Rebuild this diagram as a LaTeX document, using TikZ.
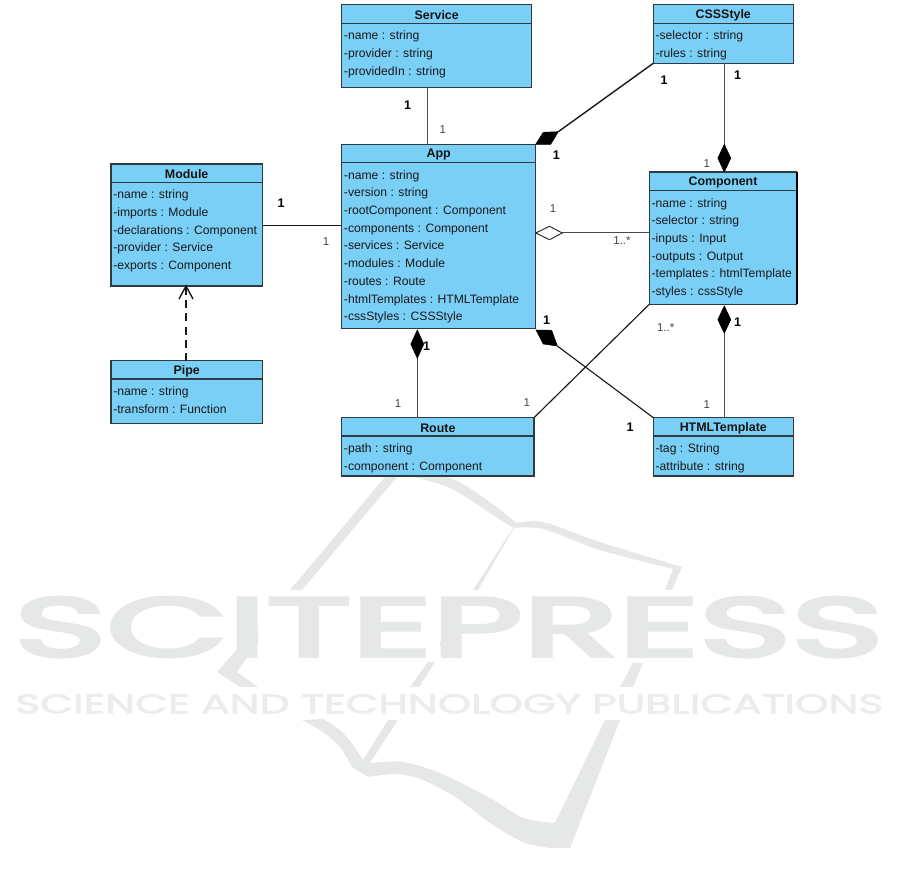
\documentclass[tikz,border=0pt]{standalone}
\usepackage{graphicx}
\usepackage{fontspec}
\usetikzlibrary{calc}
\setmainfont{Liberation Sans}
\newfontfamily\wmfont[FakeBold=4]{Poppins}
\newfontfamily\wmfontb[FakeBold=2]{Poppins}
\definecolor{umlfill}{HTML}{7ACFF7}
\definecolor{umlline}{HTML}{2F3B42}
\definecolor{wm}{HTML}{E6E8E7}
\definecolor{wmb}{HTML}{EBEDEC}
\definecolor{lightnum}{HTML}{444444}
\tikzset{
  umlbox/.style={draw=umlline,fill=umlfill,line width=0.95pt,inner sep=0pt,outer sep=0pt,anchor=north west},
  umltitle/.style={inner sep=0pt,font=\fontsize{9.3}{11}\selectfont\bfseries,text=black!92},
  umlattrs/.style={inner sep=0pt,anchor=north west,align=left,text=black!90,font=\fontsize{9.12}{13.28}\selectfont},
  umldiv/.style={draw=umlline,line width=0.8pt},
  conn/.style={draw=black!70,line width=0.75pt},
  connb/.style={draw=black!90,line width=1.05pt},
  solidhead/.style={fill=black,draw=black,line width=0.4pt,line join=miter},
  hollowhead/.style={fill=white,draw=black!85,line width=0.7pt,line join=miter},
  multdark/.style={inner sep=0pt,text=black,font=\fontsize{9.4}{11}\selectfont\bfseries},
  multlight/.style={inner sep=0pt,text=lightnum,font=\fontsize{8.6}{11}\selectfont},
  wmark/.style={fill=wm,draw=none},
}
\newcommand{\umlclass}[8]{%
  \pgfmathsetmacro{\umlw}{(#4-#2)*0.75}%
  \pgfmathsetmacro{\umlh}{(#5-#3)*0.75}%
  \pgfmathsetmacro{\umlcx}{(#2+#4)/2}%
  \pgfmathsetmacro{\umlty}{(#3+#6)/2+1.2}%
  \pgfmathsetmacro{\umlax}{#2+2}%
  \pgfmathsetmacro{\umlay}{#6+3.7}%
  \node[umlbox,minimum width=\umlw pt,minimum height=\umlh pt] (#1) at (#2,#3) {};
  \draw[umldiv] (#2,#6) -- (#4,#6);
  \node[umltitle] (#1-title) at (\umlcx,\umlty) {#7};
  \node[umlattrs] (#1-attrs) at (\umlax,\umlay) {#8};
}
\begin{document}
\begin{tikzpicture}[x=0.75pt,y=-0.75pt]
\useasboundingbox (0,0) rectangle (901,887);
\fill[white] (0,0) rectangle (901,887);

% watermark: book outline
\fill[wmark] (290,590) -- (302,590) -- (397,477) -- (385,477) -- cycle;
\fill[wmark] plot[smooth] coordinates {(417,472) (453,479) (487,500) (517,523)}
  -- plot[smooth] coordinates {(513,528) (493,515) (450,488) (410,476)} -- cycle;
\fill[wmark] plot[smooth] coordinates {(517,523) (543,522) (600,542) (682,567)}
  -- (672,590) -- (665,590) -- (673,569)
  -- plot[smooth] coordinates {(673,569) (600,550) (543,529) (513,528)} -- cycle;
\fill[wmark] (513,528) -- (517,523) -- (478,590) -- (473,590) -- cycle;
\fill[wmark] (258,625) -- (217,672) -- (240,687) -- (258,687) -- (237,672) -- (258,642) -- cycle;
\fill[wmark] (428,662) -- (435,662) -- (419,687) -- (410,687) -- cycle;
\fill[wmark] (440,642) -- (446,642) -- (441,653) -- cycle;
\fill[wmark] (633,663) -- (643,663) -- (633,687) -- (620,687) -- cycle;
\fill[wmark] plot[smooth] coordinates {(302,720) (323,732) (340,747) (352,767)}
  -- (368,777)
  -- plot[smooth] coordinates {(368,777) (397,774) (423,780) (457,798) (490,823) (523,842) (550,848)}
  -- (570,848) -- (620,720) -- (605,720) -- (555,823)
  -- plot[smooth] coordinates {(555,823) (523,818) (490,798) (440,773) (403,762) (370,763)}
  -- (398,720) -- (388,720) -- (363,760)
  -- plot[smooth] coordinates {(363,760) (353,745) (340,730) (323,719)} -- cycle;
% watermark: words
\node[inner sep=0pt,text=wm,anchor=north west] (wmone) at (14,597)
  {\resizebox{651.75pt}{44.25pt}{\wmfont SCITEPRESS}};
\node[inner sep=0pt,text=wmb,anchor=north west] (wmtwo) at (15,694)
  {\resizebox{651pt}{14.25pt}{\wmfontb SCIENCE AND TECHNOLOGY PUBLICATIONS}};

% classes
\umlclass{service}{341.7}{4.7}{531.7}{87.7}{23.3}{Service}{\strut -name : string\\-provider : string\\-providedIn : string}
\umlclass{cssstyle}{653.3}{4.7}{793.3}{63.3}{23.3}{CSSStyle}{\strut -selector : string\\-rules : string}
\umlclass{app}{341.7}{144.3}{535.7}{328.3}{162.7}{App}{\strut -name : string\\-version : string\\-rootComponent : Component\\-components : Component\\-services : Service\\-modules : Module\\-routes : Route\\-htmlTemplates : HTMLTemplate\\-cssStyles : CSSStyle}
\umlclass{component}{649.3}{172}{796.7}{304.3}{190.7}{Component}{\strut -name : string\\-selector : string\\-inputs : Input\\-outputs : Output\\-templates : htmlTemplate\\-styles : cssStyle}
\draw[draw=black,line width=1.3pt] (component.north east) -- (component.south east);
\umlclass{route}{341.7}{417.7}{534}{476}{436}{Route}{\strut -path : string\\-component : Component}
\umlclass{html}{653.3}{417.7}{793.3}{476}{436}{HTMLTemplate}{\strut -tag : String\\-attribute : string}
\umlclass{module}{111}{164}{262.3}{286}{182.3}{Module}{\strut -name : string\\-imports : Module\\-declarations : Component\\-provider : Service\\-exports : Component}
\umlclass{pipe}{111}{360.7}{262.3}{423.3}{379}{Pipe}{\strut -name : string\\-transform : Function}

% connector anchors
\coordinate (svcx) at (427,100);
\coordinate (cssdia) at (558.3,131.7);
\coordinate (cmptop) at (724.3,144.3);
\coordinate (cmpbot) at (724.3,333.3);
\coordinate (agg) at (562.3,233);
\coordinate (modx) at (300,225.7);
\coordinate (dashx) at (186,320);
\coordinate (rtetop) at (417.3,358.3);
\coordinate (htmldia) at (557.3,346);

% connectors
\draw[conn] (service.south -| svcx) -- (app.north -| svcx);
\draw[connb] (cssstyle.south west) -- (cssdia);
\draw[conn] (cssstyle.south -| cmptop) -- (cmptop);
\draw[conn] (agg) -- (component.west |- agg);
\draw[connb,line width=1.2pt] (module.east |- modx) -- (app.west |- modx);
\draw[connb,dash pattern=on 6pt off 3.8pt] (pipe.north -| dashx) -- (module.south -| dashx);
\draw[connb] ($(module.south -| dashx)+(-7,13)$) -- (module.south -| dashx) -- ($(module.south -| dashx)+(7,13)$);
\draw[conn] (route.north -| rtetop) -- (rtetop);
\draw[connb,line width=0.85pt] (component.south west) -- (route.north east);
\draw[connb,line width=0.85pt] (htmldia) -- (html.north west);
\draw[conn] (html.north -| cmpbot) -- (cmpbot);

% diamonds
\fill[solidhead] (app.north east) -- (543.3,132.3) -- (cssdia) -- (550.7,144.3) -- cycle;
\fill[solidhead] (cmptop) -- (730.8,158.2) -- (component.north -| cmptop) -- (717.8,158.2) -- cycle;
\filldraw[hollowhead] (app.east |- agg) -- (549.5,226.3) -- (agg) -- (549.5,239.7) -- cycle;
\fill[solidhead] (app.south -| rtetop) ++(0,1.7) -- (423.8,344.2) -- (rtetop) -- (410.8,344.2) -- cycle;
\fill[solidhead] (536,330) -- (551.7,330.3) -- (htmldia) -- (543.3,344) -- cycle;
\fill[solidhead] (724.3,306) -- (730.8,319.6) -- (cmpbot) -- (717.8,319.6) -- cycle;

% multiplicities
\node[multdark] (m1) at (407.7,105) {1};
\node[multlight] (m2) at (442.7,130) {1};
\node[multdark] (m3) at (664,80) {1};
\node[multdark] (m4) at (737.7,75) {1};
\node[multdark] (m5) at (556.3,155) {1};
\node[multlight] (m6) at (706.7,164) {1};
\node[multlight] (m7) at (553,209) {1};
\node[multlight] (m8) at (622,241) {1..*};
\node[multlight] (m9) at (665.7,327.3) {1..*};
\node[multdark] (m10) at (737.7,321.7) {1};
\node[multdark] (m11) at (546.7,320) {1};
\node[multdark] (m12) at (426.7,346) {1};
\node[multlight] (m13) at (398,403.3) {1};
\node[multlight] (m14) at (526.7,402.3) {1};
\node[multdark] (m15) at (630,427.3) {1};
\node[multlight] (m16) at (706.7,405) {1};
\node[multdark] (m17) at (281,202.7) {1};
\node[multlight] (m18) at (326,241.7) {1};
\end{tikzpicture}
\end{document}
